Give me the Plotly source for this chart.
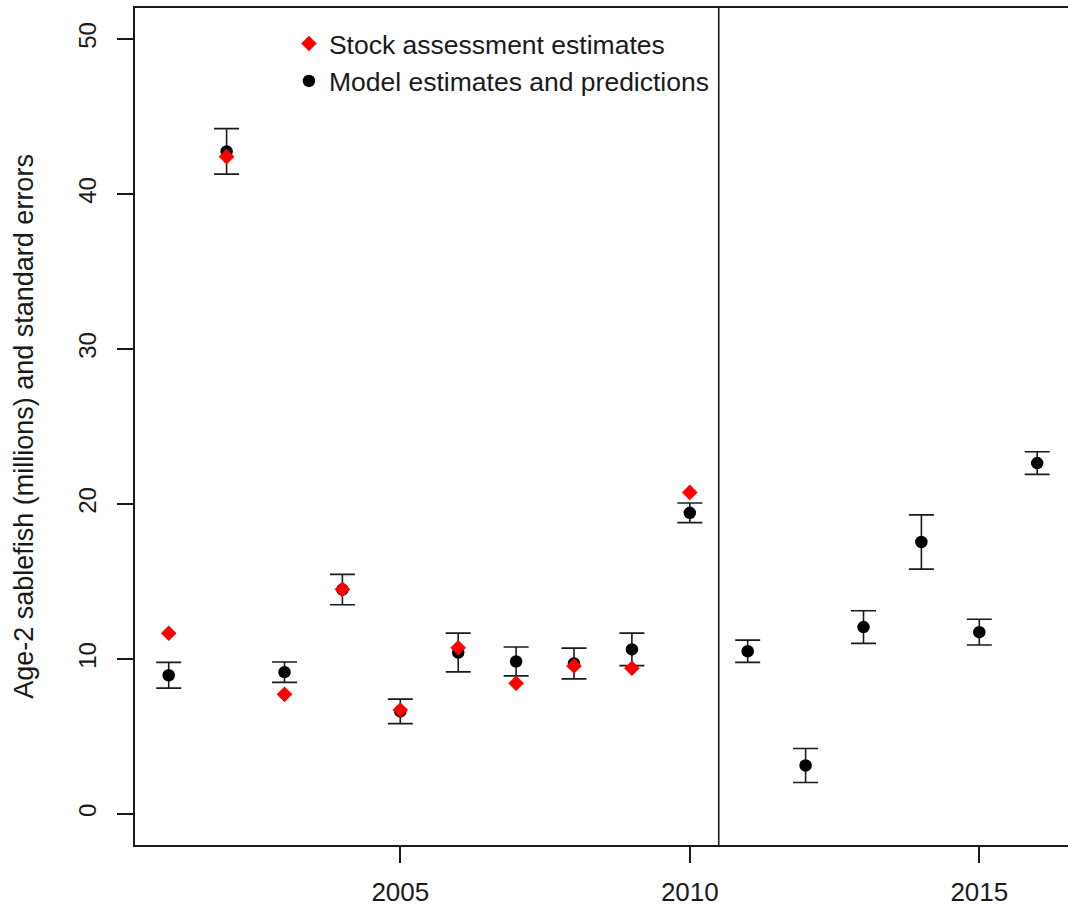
import plotly.graph_objects as go

# Age-2 sablefish recruitment (millions)
years_sa = [2001, 2002, 2003, 2004, 2005, 2006, 2007, 2008, 2009, 2010]
stock_assessment = [11.66, 42.41, 7.72, 14.5, 6.71, 10.73, 8.43, 9.55, 9.4, 20.75]

years_model = [2001, 2002, 2003, 2004, 2005, 2006, 2007, 2008,
               2009, 2010, 2011, 2012, 2013, 2014, 2015, 2016]
model_est = [8.95, 42.75, 9.15, 14.48, 6.62, 10.42, 9.84, 9.71,
             10.62, 19.43, 10.5, 3.13, 12.06, 17.55, 11.73, 22.64]
model_se = [0.83, 1.47, 0.66, 0.98, 0.79, 1.25, 0.93, 0.99,
            1.05, 0.63, 0.72, 1.1, 1.05, 1.75, 0.83, 0.73]

x_ticks = [2005, 2010, 2015]
y_ticks = [0, 10, 20, 30, 40, 50]
split_year = 2010.5

FONT = "Liberation Sans, Arial, sans-serif"
INK = "#1a1a1a"

fig = go.Figure()

fig.add_trace(go.Scatter(
    x=years_model, y=model_est, mode="markers",
    name="Model estimates and predictions",
    marker=dict(symbol="circle", size=12.5, color="black"),
    error_y=dict(type="data", array=model_se, visible=True,
                 color=INK, thickness=1.6, width=12.5),
))

fig.add_trace(go.Scatter(
    x=years_sa, y=stock_assessment, mode="markers",
    name="Stock assessment estimates",
    marker=dict(symbol="diamond", size=12, color="red"),
))

# Boundary between estimation years and prediction years
fig.add_shape(type="line", xref="x", yref="paper",
              x0=split_year, x1=split_year, y0=0, y1=1,
              line=dict(color=INK, width=1.6))

fig.update_layout(
    width=1068, height=909,
    margin=dict(l=135, r=0, t=8, b=64),
    paper_bgcolor="white", plot_bgcolor="white",
    font=dict(family=FONT, color=INK),
    showlegend=True,
    legend=dict(
        x=0.165, y=0.986, xanchor="left", yanchor="top",
        traceorder="reversed",
        font=dict(size=26.5, family=FONT, color=INK),
        bgcolor="rgba(0,0,0,0)", itemwidth=30,
        tracegroupgap=0,
    ),
    xaxis=dict(
        range=[2000.418, 2016.532],
        tickvals=x_ticks, ticktext=[str(v) for v in x_ticks],
        ticks="outside", ticklen=16, tickwidth=1.6, tickcolor=INK,
        ticklabelstandoff=7,
        showline=True, linecolor=INK, linewidth=1.6, mirror=True,
        showgrid=False, zeroline=False,
        tickfont=dict(size=26, family=FONT, color=INK),
    ),
    yaxis=dict(
        range=[-2, 52],
        tickvals=y_ticks, ticktext=[str(v) for v in y_ticks],
        tickangle=-90,
        ticks="outside", ticklen=16, tickwidth=1.6, tickcolor=INK,
        ticklabelstandoff=12,
        showline=True, linecolor=INK, linewidth=1.6,
        showgrid=False, zeroline=False,
        tickfont=dict(size=24, family=FONT, color=INK),
        title=dict(text="Age-2 sablefish (millions) and standard errors",
                   font=dict(size=27, family=FONT, color=INK),
                   standoff=32),
    ),
)

fig.write_html("out.html")
